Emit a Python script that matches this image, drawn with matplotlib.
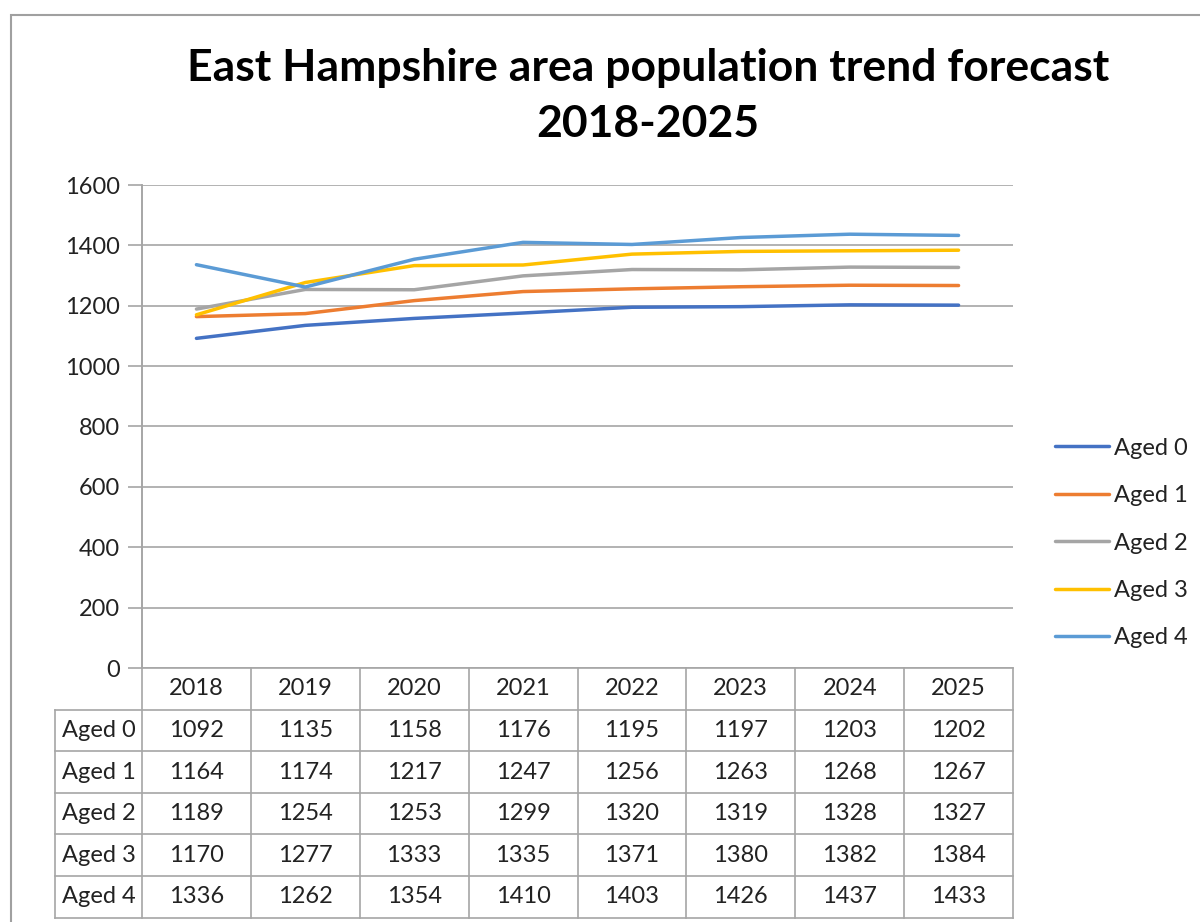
import matplotlib
matplotlib.use("Agg")
import matplotlib.pyplot as plt
import matplotlib.transforms as mtransforms
from matplotlib.patches import Rectangle

years = ["2018", "2019", "2020", "2021", "2022", "2023", "2024", "2025"]
series_names = ["Aged 0", "Aged 1", "Aged 2", "Aged 3", "Aged 4"]
aged_0 = [1092, 1135, 1158, 1176, 1195, 1197, 1203, 1202]
aged_1 = [1164, 1174, 1217, 1247, 1256, 1263, 1268, 1267]
aged_2 = [1189, 1254, 1253, 1299, 1320, 1319, 1328, 1327]
aged_3 = [1170, 1277, 1333, 1335, 1371, 1380, 1382, 1384]
aged_4 = [1336, 1262, 1354, 1410, 1403, 1426, 1437, 1433]
series = [aged_0, aged_1, aged_2, aged_3, aged_4]
colors = ["#4472C4", "#ED7D31", "#A5A5A5", "#FFC000", "#5B9BD5"]

plt.rcParams['font.family'] = ['Lato', 'DejaVu Sans']

W, H = 1200, 922
fig = plt.figure(figsize=(W / 100, H / 100), dpi=100)

# plot area in pixels
left, right, top, bottom = 142, 1013, 185, 668
ax = fig.add_axes([left / W, 1 - bottom / H, (right - left) / W, (bottom - top) / H])

grid_col = "#A6A6A6"
txt_col = "#222222"
xs = list(range(len(years)))
lines = []
for name, vals, c in zip(series_names, series, colors):
    ln, = ax.plot(xs, vals, color=c, lw=2.5, label=name, solid_capstyle='round')
    lines.append(ln)

ax.set_xlim(-0.5, len(years) - 0.5)
ax.set_ylim(0, 1600)
ax.set_yticks(range(0, 1601, 200))
ax.yaxis.grid(True, color=grid_col, lw=1.2)
ax.set_axisbelow(True)
ax.set_xticks([])
ax.tick_params(axis='y', length=10, width=1.2, color=grid_col, pad=6,
               labelsize=17, labelcolor=txt_col)
for s in ["top", "right"]:
    ax.spines[s].set_visible(False)
for s in ["left", "bottom"]:
    ax.spines[s].set_color(grid_col)
    ax.spines[s].set_linewidth(1.2)

# data table under the plot, columns follow the x scale
trans = mtransforms.blended_transform_factory(ax.transData, ax.transAxes)
row_h = 41.6 / (bottom - top)
n_rows = len(series_names) + 1
label_left = -0.5 - 87 / ((right - left) / len(years))
kw = dict(transform=trans, clip_on=False, color=grid_col, lw=1.2)
for i in range(len(years) + 1):
    ax.plot([i - 0.5, i - 0.5], [0, -n_rows * row_h], **kw)
ax.plot([label_left, label_left], [-row_h, -n_rows * row_h], **kw)
for r in range(1, n_rows + 1):
    ax.plot([label_left, len(years) - 0.5], [-r * row_h, -r * row_h], **kw)
ax.plot([-0.5, -0.5], [0, 1], **kw)

tkw = dict(transform=trans, ha='center', va='center', fontsize=17, color=txt_col)
for j, yr in enumerate(years):
    ax.text(j, -0.5 * row_h, yr, **tkw)
for r, (name, vals) in enumerate(zip(series_names, series), start=1):
    yc = -(r + 0.5) * row_h
    ax.text((label_left - 0.5) / 2, yc, name, **tkw)
    for j, v in enumerate(vals):
        ax.text(j, yc, str(v), **tkw)

# legend on the right
fig.legend(handles=lines, loc='center left', bbox_to_anchor=(1055 / W, 1 - 543 / H),
           frameon=False, fontsize=17, handlelength=2.3, handletextpad=0.2,
           labelspacing=1.12, labelcolor=txt_col, borderpad=0, borderaxespad=0)

# title
fig.text(648 / W, 1 - 96 / H, "East Hampshire area population trend forecast\n2018-2025",
         ha='center', va='center', fontsize=32, fontweight='bold', linespacing=1.5)

# chart border
fig.patches.append(Rectangle((11 / W, -0.1), 2, 1 - 15 / H + 0.1, transform=fig.transFigure,
                             fill=False, ec="#A0A0A0", lw=1.5))

fig.savefig("out.png", dpi=100)
